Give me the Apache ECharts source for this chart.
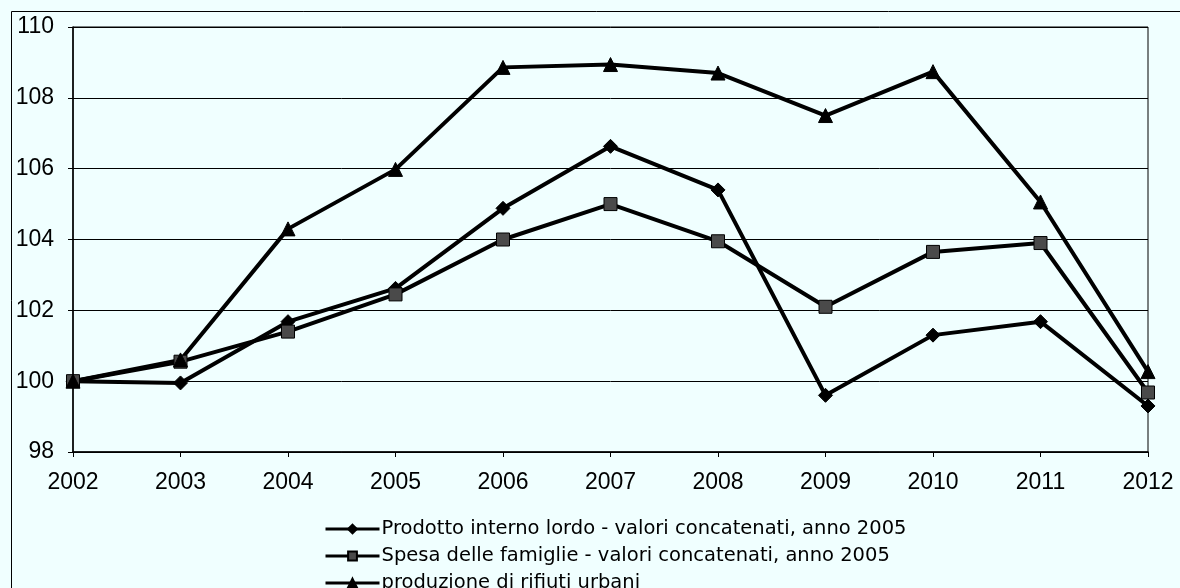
<!DOCTYPE html>
<html>
<head>
<meta charset="utf-8">
<script src="https://cdn.jsdelivr.net/npm/echarts@6/dist/echarts.min.js"></script>
<style>
  html, body { margin: 0; padding: 0; background: #f0ffff; }
  #chart { width: 1180px; height: 588px; }
</style>
</head>
<body>
<div id="chart"></div>
<script>
const years = ['2002', '2003', '2004', '2005', '2006', '2007', '2008', '2009', '2010', '2011', '2012']
const pil = [100, 99.95, 101.68, 102.62, 104.88, 106.63, 105.4, 99.6, 101.3, 101.68, 99.3]
const spesa = [100, 100.55, 101.4, 102.45, 104.0, 105.0, 103.95, 102.1, 103.65, 103.9, 99.68]
const rifiuti = [100, 100.6, 104.3, 105.98, 108.86, 108.94, 108.7, 107.5, 108.74, 105.06, 100.27]

const names = [
  'Prodotto interno lordo - valori concatenati, anno 2005',
  'Spesa delle famiglie - valori concatenati, anno 2005',
  'produzione di rifiuti urbani'
]

const chart = echarts.init(document.getElementById('chart'))

const mkSeries = (name, data, symbol, size, fill) => ({
  name,
  type: 'line',
  data,
  symbol,
  symbolSize: size,
  lineStyle: { color: '#000', width: 4 },
  itemStyle: { color: fill, borderColor: '#000', borderWidth: 1 },
  emphasis: { disabled: true },
  animation: false
})

chart.setOption({
  backgroundColor: '#f0ffff',
  textStyle: { fontFamily: 'Liberation Sans, Arial, sans-serif', color: '#000' },
  graphic: [{
    type: 'rect',
    shape: { x: 11.5, y: 11.5, width: 1200, height: 600 },
    style: { fill: 'none', stroke: '#000', lineWidth: 1 }
  }],
  grid: { left: 73, right: 32, top: 27, bottom: 136, show: true, borderColor: '#000', borderWidth: 1 },
  xAxis: {
    type: 'category',
    data: years,
    boundaryGap: false,
    axisLine: { lineStyle: { color: '#000', width: 1.5 } },
    axisTick: { show: true, length: 5, alignWithLabel: true, lineStyle: { color: '#000' } },
    axisLabel: { color: '#000', fontSize: 23, margin: 19 },
    splitLine: { show: false }
  },
  yAxis: {
    type: 'value',
    min: 98,
    max: 110,
    interval: 2,
    axisLine: { show: true, lineStyle: { color: '#000', width: 1.5 } },
    axisTick: { show: true, length: 5, lineStyle: { color: '#000' } },
    axisLabel: { color: '#000', fontSize: 23, margin: 19 },
    splitLine: { lineStyle: { color: '#000', width: 1 } }
  },
  legend: {
    orient: 'vertical',
    left: 324,
    top: 519,
    width: 700,
    height: 120,
    padding: 0,
    itemWidth: 54,
    itemHeight: 11,
    itemGap: 7,
    lineStyle: { width: 3, color: '#000' },
    textStyle: { fontSize: 19.5, fontFamily: 'DejaVu Sans', color: '#000', padding: [0, 0, 0, -3] },
    data: names
  },
  series: [
    mkSeries(names[0], pil, 'diamond', 14, '#000'),
    mkSeries(names[1], spesa, 'rect', 13, '#4a4a4a'),
    mkSeries(names[2], rifiuti, 'triangle', 14, '#000')
  ]
})
</script>
</body>
</html>
